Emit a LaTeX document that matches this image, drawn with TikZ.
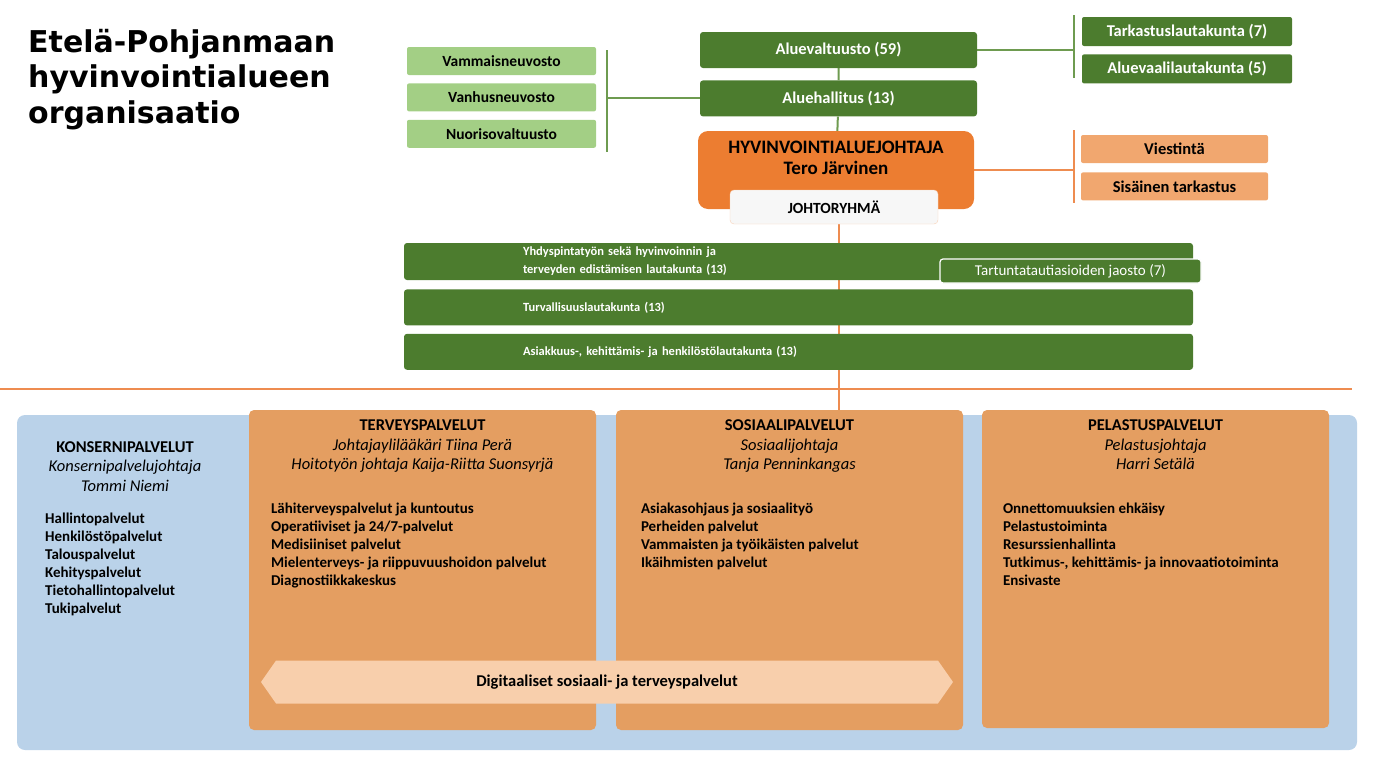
\documentclass[tikz,border=0pt]{standalone}
\usepackage{fontspec}
\setmainfont{Carlito}
\newfontfamily\titlefont{DejaVu Sans}
\usetikzlibrary{positioning,shapes.arrows}
\pgfdeclarelayer{bg}
\pgfsetlayers{bg,main}
\definecolor{dgreen}{RGB}{76,124,46}
\definecolor{lgreen}{RGB}{163,207,133}
\definecolor{gline}{RGB}{110,155,80}
\definecolor{orng}{RGB}{236,125,49}
\definecolor{lorng}{RGB}{241,167,111}
\definecolor{oline}{RGB}{238,140,80}
\definecolor{borng}{RGB}{228,158,97}
\definecolor{sky}{RGB}{186,210,233}
\definecolor{peach}{RGB}{248,207,172}

\begin{document}
\begin{tikzpicture}[x=1pt,y=-1pt,
  council/.style={fill=lgreen,rounded corners=2pt,minimum width=189,minimum height=28,font=\bfseries\fontsize{15.5}{17}\selectfont},
  board/.style={fill=dgreen,text=white,rounded corners=3pt,minimum width=277,minimum height=36,font=\bfseries\fontsize{16.5}{18}\selectfont},
  side/.style={board,minimum width=210,minimum height=29,rounded corners=2pt},
  lead/.style={fill=orng,rounded corners=10pt,minimum width=276,minimum height=78,align=center,text depth=25pt,font=\bfseries\fontsize{19}{21}\selectfont},
  group/.style={fill=gray!6,draw=orng!35,rounded corners=4pt,minimum width=208,minimum height=34,font=\bfseries\fontsize{15.5}{17}\selectfont},
  staff/.style={fill=lorng,rounded corners=2pt,minimum width=187,minimum height=28,font=\bfseries\fontsize{16.5}{18}\selectfont},
  panel/.style={fill=dgreen,text=white,rounded corners=3pt,minimum height=36,text width=551,inner xsep=119,align=left,font=\bfseries\fontsize{12.5}{18}\selectfont},
  unit/.style={fill=borng,rounded corners=5pt,minimum width=347,minimum height=320},
  head/.style={align=center,inner sep=0pt,font=\fontsize{16.5}{19.5}\selectfont},
  items/.style={align=left,inner sep=0pt,font=\bfseries\fontsize{15}{18}\selectfont},
  digi/.style={double arrow,double arrow head extend=0pt,double arrow tip angle=110,fill=peach,minimum height=692,minimum width=43,font=\bfseries\fontsize{16.5}{18}\selectfont},
  gl/.style={draw=gline,line width=2pt},
  ol/.style={draw=oline,line width=2pt}]
  \useasboundingbox (0,0) rectangle (1374,756);

  \node[anchor=north west,align=left,inner sep=0pt,font=\titlefont\bfseries\fontsize{30}{35.5}\selectfont] (title) at (28,29) {Etelä-Pohjanmaan\\hyvinvointialueen\\organisaatio};

  \node[council] (vam) at (501.5,61) {Vammaisneuvosto};
  \node[council,below=8pt of vam] (vanh) {Vanhusneuvosto};
  \node[council,below=8pt of vanh] (nuor) {Nuorisovaltuusto};

  \node[board] (valt) at (838.5,50) {Aluevaltuusto (59)};
  \node[board,below=12pt of valt] (hall) {Aluehallitus (13)};
  \node[side] (tark) at (1187,31.5) {Tarkastuslautakunta (7)};
  \node[side,below=8pt of tark] (vaali) {Aluevaalilautakunta (5)};

  \node[lead] (johtaja) at (836,170) {HYVINVOINTIALUEJOHTAJA\\Tero Järvinen};
  \node[group] (jryhma) at (834,207) {JOHTORYHMÄ};
  \node[staff] (viest) at (1174.5,149) {Viestintä};
  \node[staff,below=9pt of viest] (sisa) {Sisäinen tarkastus};

  \node[panel,minimum height=37] (yhd) at (798.5,261.5) {Yhdyspintatyön sekä hyvinvoinnin ja\\terveyden edistämisen lautakunta (13)};
  \node[panel,below=9pt of yhd] (turv) {Turvallisuuslautakunta (13)};
  \node[panel,below=8pt of turv] (asiak) {Asiakkuus-, kehittämis- ja henkilöstölautakunta (13)};
  \node[fill=dgreen,draw=white,line width=1.2pt,rounded corners=3pt,minimum width=261,minimum height=24,text=white,font=\fontsize{15}{16}\selectfont] (tart) at (1070.5,271) {Tartuntatautiasioiden jaosto (7)};

  \node[fill=sky,rounded corners=8pt,minimum width=1340,minimum height=335] (base) at (687,582.5) {};
  \node[head,anchor=north] (konh) at (125,441) {\textbf{KONSERNIPALVELUT}\\\textit{Konsernipalvelujohtaja}\\\textit{Tommi Niemi}};
  \node[items,anchor=north west] (konl) at (45,513) {Hallintopalvelut\\Henkilöstöpalvelut\\Talouspalvelut\\Kehityspalvelut\\Tietohallintopalvelut\\Tukipalvelut};

  \node[unit] (terv) at (422.5,570) {};
  \node[unit] (sos) at (789.5,570) {};
  \node[unit,minimum height=318] (pel) at (1155.5,569) {};

  \node[head,below=10pt of terv.north] (tervh) {\textbf{TERVEYSPALVELUT}\\\textit{Johtajaylilääkäri Tiina Perä}\\\textit{Hoitotyön johtaja Kaija-Riitta Suonsyrjä}};
  \node[head,below=10pt of sos.north] (sosh) {\textbf{SOSIAALIPALVELUT}\\\textit{Sosiaalijohtaja}\\\textit{Tanja Penninkangas}};
  \node[head,below=10pt of pel.north] (pelh) {\textbf{PELASTUSPALVELUT}\\\textit{Pelastusjohtaja}\\\textit{Harri Setälä}};

  \node[items,below right=93pt and 22pt of terv.north west] (tervl) {Lähiterveyspalvelut ja kuntoutus\\Operatiiviset ja 24/7-palvelut\\Medisiiniset palvelut\\Mielenterveys- ja riippuvuushoidon palvelut\\Diagnostiikkakeskus};
  \node[items,below right=93pt and 25pt of sos.north west] (sosl) {Asiakasohjaus ja sosiaalityö\\Perheiden palvelut\\Vammaisten ja työikäisten palvelut\\Ikäihmisten palvelut};
  \node[items,below right=93pt and 21pt of pel.north west] (pell) {Onnettomuuksien ehkäisy\\Pelastustoiminta\\Resurssienhallinta\\Tutkimus-, kehittämis- ja innovaatiotoiminta\\Ensivaste};

  \node[digi] (digi) at (607,682) {Digitaaliset sosiaali- ja terveyspalvelut};

  \coordinate (lt) at (607,50);
  \coordinate (lb) at (607,152);
  \coordinate (rt) at (1074,15);
  \coordinate (rb) at (1074,78);
  \coordinate (st) at (1074,130);
  \coordinate (sb) at (1074,203);
  \coordinate (hl) at (0,389);
  \coordinate (hr) at (1352,389);
  \begin{pgfonlayer}{bg}
    \draw[gl] (lt) -- (lb);
    \draw[gl] (hall.west) -- (hall.west -| lt);
    \draw[gl] (valt) -- (hall) -- (johtaja);
    \draw[gl] (rt) -- (rb);
    \draw[gl] (valt.east) -- (valt.east -| rt);
    \draw[ol] (st) -- (sb);
    \draw[ol] (johtaja.east) -- (johtaja.east -| st);
    \draw[ol] (jryhma.south -| hall.south) -- (hall.south |- sos.north);
    \draw[ol] (hl) -- (hr);
  \end{pgfonlayer}
\end{tikzpicture}
\end{document}
